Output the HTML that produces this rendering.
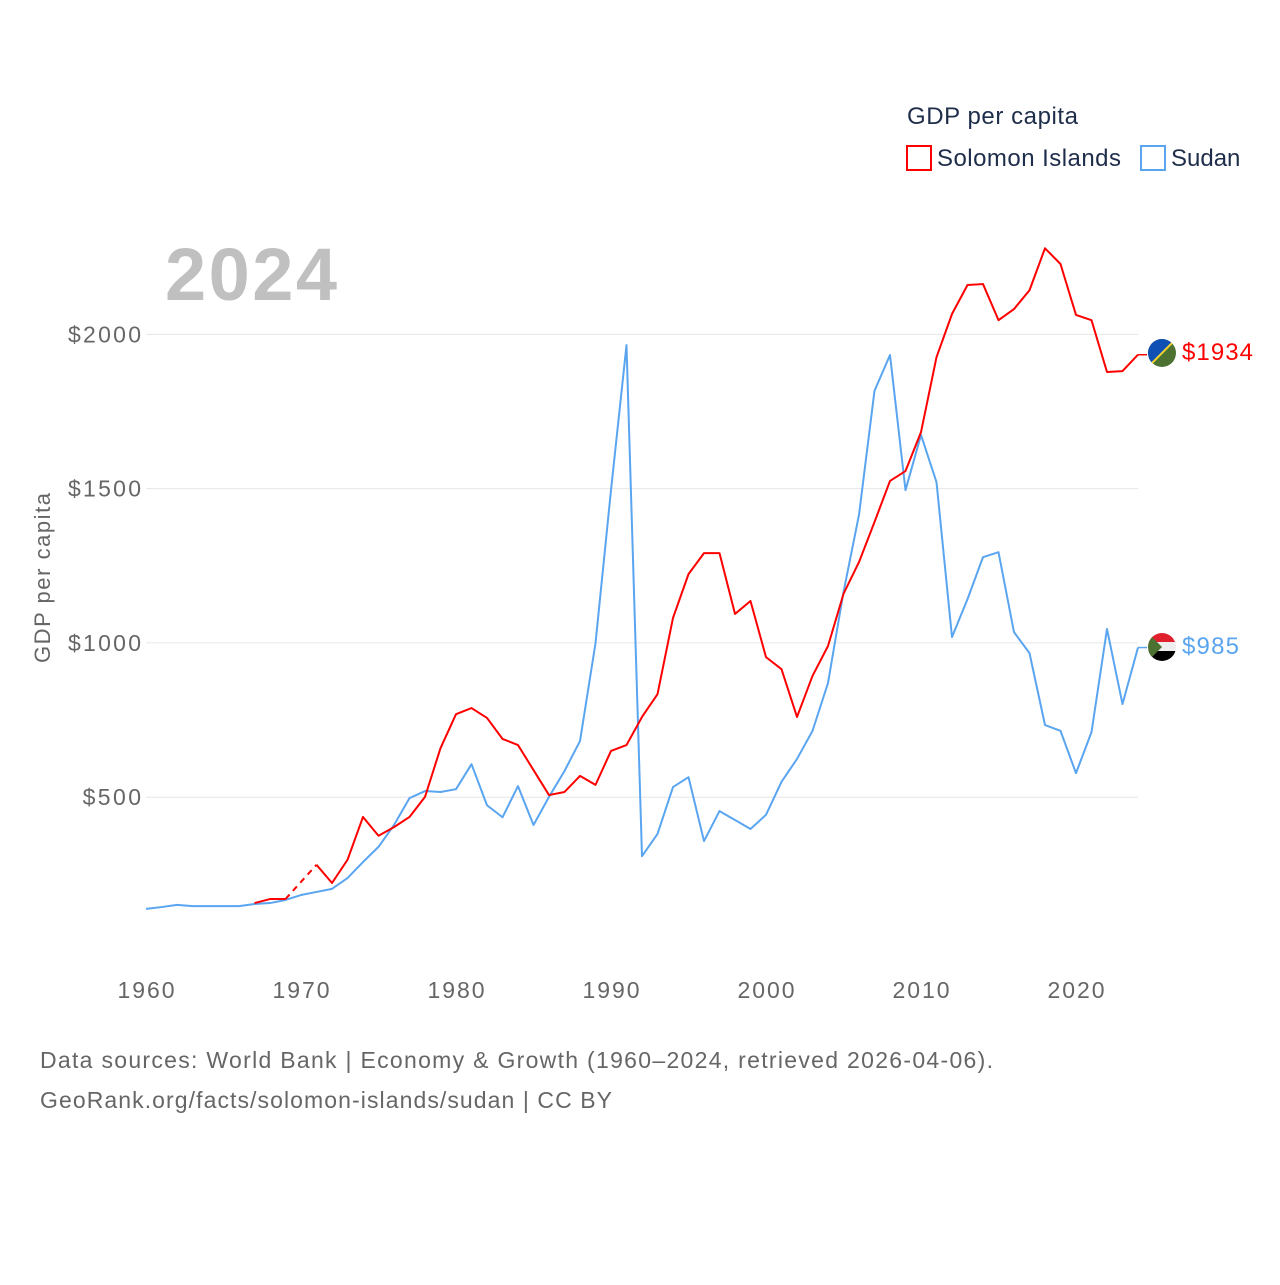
<!DOCTYPE html>
<html><head><meta charset="utf-8"><style>
body{margin:0;background:#fff;}
svg text{font-family:"Liberation Sans",sans-serif;}
</style></head><body>
<svg width="1280" height="1280" xmlns="http://www.w3.org/2000/svg">
<g id="grid"></g>
<g id="lines"></g>
<text x="907" y="124" font-size="24" fill="#1e2d4a" textLength="171">GDP per capita</text>
<rect x="907" y="146" width="24" height="24" fill="none" stroke="#f00" stroke-width="2"/>
<text x="937" y="166" font-size="24" fill="#1e2d4a" textLength="184">Solomon Islands</text>
<rect x="1141" y="146" width="24" height="24" fill="none" stroke="#5aa5f0" stroke-width="2"/>
<text x="1171" y="166" font-size="24" fill="#1e2d4a">Sudan</text>
<text x="165" y="300" font-size="74" font-weight="bold" fill="#c0c0c0" textLength="172">2024</text>
<text transform="translate(50,578) rotate(-90)" text-anchor="middle" font-size="22" fill="#666" textLength="170">GDP per capita</text>
<text x="40" y="1068" font-size="23" fill="#666" textLength="953">Data sources: World Bank | Economy &amp; Growth (1960–2024, retrieved 2026-04-06).</text>
<text x="40" y="1108" font-size="23" fill="#666" textLength="572">GeoRank.org/facts/solomon-islands/sudan | CC BY</text>
<g>
<clipPath id="c1"><circle cx="1162" cy="353" r="14"/></clipPath>
<g clip-path="url(#c1)"><rect x="1148" y="339" width="28" height="28" fill="#4c7130"/><polygon points="1148,339 1176,339 1148,367" fill="#0f50b4"/><line x1="1176" y1="339" x2="1148" y2="367" stroke="#f7d430" stroke-width="2"/></g>
</g>
<g>
<clipPath id="c2"><circle cx="1162" cy="647" r="14"/></clipPath>
<g clip-path="url(#c2)"><rect x="1148" y="633" width="28" height="10" fill="#e0202c"/><rect x="1148" y="642" width="28" height="10" fill="#eee"/><rect x="1148" y="651" width="28" height="10" fill="#000"/><polygon points="1148,633 1162,647 1148,661" fill="#4c7130"/></g>
</g>
<text x="1182" y="360" font-size="24" fill="#f00" textLength="71">$1934</text>
<text x="1182" y="654" font-size="24" fill="#5aa5f0" textLength="57">$985</text>
</svg>
<script>
const years=[];for(let y=1960;y<=2024;y++)years.push(y);
const yTicks=[500,1000,1500,2000];
const xTicks=[1960,1970,1980,1990,2000,2010,2020];
const sudan=[138,144,151,147,147,147,147,154,157,167,183,193,203,238,290,339,410,497,520,517,526,607,474,435,536,410,501,585,682,999,1495,1965,309,381,533,565,358,455,426,397,443,550,624,715,870,1165,1415,1817,1933,1495,1674,1521,1019,1142,1278,1294,1035,967,734,715,578,711,1045,802,985];
const solomon=[null,null,null,null,null,null,null,157,170,170,null,281,222,297,436,375,403,436,501,659,769,789,757,689,669,588,507,517,569,540,650,669,760,834,1081,1223,1291,1291,1094,1136,954,915,760,893,990,1159,1262,1392,1525,1557,1683,1926,2066,2160,2163,2046,2082,2143,2279,2228,2063,2046,1878,1881,1934];
const NS='http://www.w3.org/2000/svg';
const X=y=>146+(y-1960)*15.5;
const Y=v=>951.5-v*0.30857;
const grid=document.getElementById('grid'),lines=document.getElementById('lines');
function mk(tag,attrs,parent){const e=document.createElementNS(NS,tag);for(const k in attrs)e.setAttribute(k,attrs[k]);parent.appendChild(e);return e;}
yTicks.forEach(v=>{
 const l=mk('line',{x1:146,x2:1138,y1:Y(v),y2:Y(v),stroke:'#e6e6e6','stroke-width':1},grid);
 
 
 const s='$'+v;
 const t=mk('text',{x:141,y:Y(v)+8,'text-anchor':'end','font-size':23,fill:'#666',textLength:s.length*14.6},grid);
 t.textContent=s;
 
 
});
xTicks.forEach(y=>{
 const t=mk('text',{x:X(y)-28.5,y:998,'font-size':23,fill:'#666',textLength:57},grid);
 t.textContent=y;
 
 
});
function draw(vals,color,name){
 let segs=[],cur=[];
 vals.forEach((v,i)=>{if(v==null){if(cur.length)segs.push(cur);cur=[];}else cur.push([X(years[i]),Y(v)]);});
 if(cur.length)segs.push(cur);
 segs.forEach((s,k)=>{
  const p=mk('polyline',{points:s.map(a=>a.join(',')).join(' '),fill:'none',stroke:color,'stroke-width':2,'stroke-linejoin':'round'},lines);
  
  
  if(k>0){const a=segs[k-1][segs[k-1].length-1],b=s[0];
   const d=mk('line',{x1:a[0],y1:a[1],x2:b[0],y2:b[1],stroke:color,'stroke-width':2,'stroke-dasharray':'6,5'},lines);
   
   }
 });
 const last=vals[vals.length-1];
 const e=mk('line',{x1:X(2024),y1:Y(last),x2:X(2024)+9,y2:Y(last),stroke:color,'stroke-width':1.5},lines);
 
 
}
draw(sudan,'#5aa5f0','sudan');
draw(solomon,'#ff0000','solomon');
</script>
</body></html>
